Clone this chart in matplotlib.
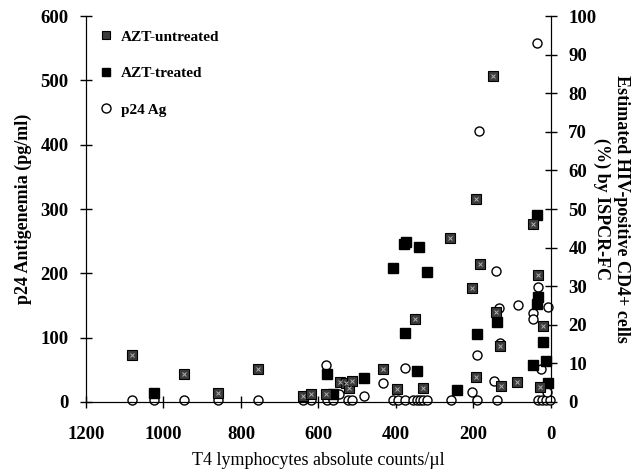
import matplotlib.pyplot as plt
from matplotlib.lines import Line2D

plt.rcParams['font.family'] = ['Liberation Serif', 'DejaVu Serif']

# AZT-untreated: T4 counts, % HIV-positive CD4+ cells (right axis)
untreated_x = [1081, 947, 859, 756, 640, 619, 580, 544, 529, 521, 513, 434, 397,
               351, 330, 261, 204, 193, 193, 183, 150, 142, 132, 130, 88, 46, 33, 21, 28]
untreated_y = [12.2, 7.3, 2.3, 8.5, 1.6, 2.1, 2.1, 5.2, 4.9, 3.6, 5.4, 8.5, 3.4,
               21.6, 3.6, 42.5, 29.5, 52.6, 6.5, 35.7, 84.4, 23.3, 14.5, 4.1, 5.2, 46.1, 32.9, 19.7, 3.9]

# AZT-treated: T4 counts, % (right axis)
treated_x = [1024, 578, 562, 482, 408, 379, 374, 377, 346, 341, 320, 243, 191,
             139, 46, 36, 34, 36, 21, 13, 8]
treated_y = [2.3, 7.2, 2.0, 6.2, 34.7, 40.9, 41.4, 17.9, 8.1, 40.1, 33.7, 3.1, 17.6,
             20.7, 9.5, 48.4, 27.2, 25.4, 15.5, 10.6, 4.9]

# p24 Ag: T4 counts, pg/ml (left axis)
p24_x = [1081, 1024, 947, 859, 756, 640, 619, 578, 562, 524, 513, 408, 395, 377,
         356, 346, 338, 330, 320, 258, 191, 139, 34, 23, 13, 3,
         580, 547, 482, 433, 377, 243, 204, 191, 186, 147, 142, 132, 134, 85,
         46, 46, 36, 34, 26, 10, 8]
p24_y = [3, 3, 3, 3, 3, 3, 3, 3, 3, 3, 3, 3, 3, 3,
         3, 3, 3, 3, 3, 3, 3, 3, 3, 3, 3, 3,
         57, 12, 9, 30, 53, 19, 15, 73, 421, 33, 204, 92, 146, 151,
         138, 129, 558, 179, 51, 16, 148]

x_ticks = [1200, 1000, 800, 600, 400, 200, 0]

fig = plt.figure(figsize=(6.44, 4.74), dpi=100)
ax = fig.add_axes([0.1335, 0.152, 0.722, 0.814])
ax2 = ax.twinx()

ax.plot(p24_x, p24_y, 'o', ms=6.5, mfc='white', mec='black', mew=1.0, clip_on=False)
ax2.plot(treated_x, treated_y, 's', ms=6.6, mfc='black', mec='black', clip_on=False)
ax2.plot(untreated_x, untreated_y, 's', ms=6.6, mfc='#3c3c3c', mec='black', mew=0.8, clip_on=False)
ax2.plot(untreated_x, untreated_y, 'x', ms=2.5, color='#b0b0b0', mew=0.7, clip_on=False)

ax.set_xlim(1200, 0)
ax.set_ylim(0, 600)
ax2.set_ylim(0, 100)
ax.set_xticks(x_ticks)
ax.set_yticks(range(0, 601, 100))
ax2.set_yticks(range(0, 101, 10))

for a in (ax, ax2):
    a.spines['top'].set_visible(False)
    a.tick_params(direction='inout', length=9, width=1, labelsize=13.5)
    for lab in a.get_xticklabels() + a.get_yticklabels():
        lab.set_fontweight('bold')
ax.tick_params(axis='x', pad=13)
ax.tick_params(axis='y', pad=8)
ax2.tick_params(axis='y', pad=8)

ax.set_xlabel('T4 lymphocytes absolute counts/\u00b5l', fontsize=13, labelpad=6)
ax.set_ylabel('p24 Antigenemia (pg/ml)', fontsize=13, fontweight='bold', labelpad=6)
ax2.set_ylabel('Estimated HIV-positive CD4+ cells\n(%) by ISPCR-FC', fontsize=13,
               fontweight='bold', rotation=270, labelpad=24, linespacing=1.15)

handles = [
    Line2D([], [], marker='s', ls='', ms=6.3, mfc='#3c3c3c', mec='black', mew=0.8),
    Line2D([], [], marker='s', ls='', ms=6.3, mfc='black', mec='black'),
    Line2D([], [], marker='o', ls='', ms=6.5, mfc='white', mec='black'),
]
leg = ax2.legend(handles, ['AZT-untreated', 'AZT-treated', 'p24 Ag'], loc='upper left',
                 bbox_to_anchor=(0.0, 1.0), frameon=False, handlelength=0.8,
                 handletextpad=0.6, labelspacing=1.5, prop={'weight': 'bold', 'size': 11})

fig.savefig('out.png', dpi=100)
